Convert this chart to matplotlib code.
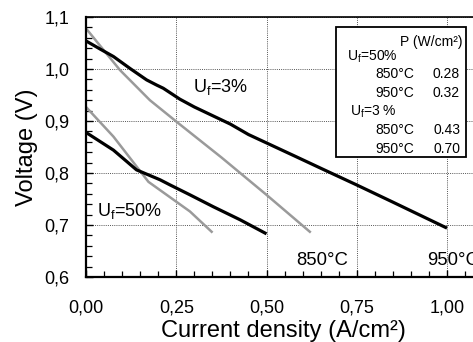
import matplotlib
matplotlib.use("Agg")
import matplotlib.pyplot as plt
from matplotlib.ticker import MultipleLocator, FuncFormatter
from matplotlib.patches import Rectangle

plt.rcParams['font.family'] = ['Liberation Sans', 'DejaVu Sans']
plt.rcParams['mathtext.default'] = 'regular'

# Data (current density A/cm2, voltage V)
x_950_3 = [0.0, 0.04, 0.076, 0.122, 0.168, 0.196, 0.214, 0.26, 0.30, 0.40, 0.45, 0.58, 0.66, 0.75, 0.85, 1.0]
v_950_3 = [1.054, 1.038, 1.024, 1.001, 0.979, 0.969, 0.963, 0.942, 0.927, 0.894, 0.874, 0.832, 0.806, 0.777, 0.744, 0.694]

x_850_3 = [0.0, 0.094, 0.177, 0.25, 0.375, 0.50, 0.62]
v_850_3 = [1.078, 0.998, 0.940, 0.899, 0.830, 0.758, 0.687]

x_950_50 = [0.0, 0.076, 0.14, 0.205, 0.233, 0.288, 0.353, 0.427, 0.50]
v_950_50 = [0.878, 0.844, 0.806, 0.787, 0.777, 0.758, 0.735, 0.710, 0.683]

x_850_50 = [0.0, 0.076, 0.173, 0.288, 0.348]
v_850_50 = [0.927, 0.870, 0.783, 0.726, 0.687]

x_ticks = [0.0, 0.25, 0.5, 0.75, 1.0]
y_ticks = [0.6, 0.7, 0.8, 0.9, 1.0, 1.1]

table_rows = [("U$_f$=50%", None), ("850°C", "0.28"), ("950°C", "0.32"),
              ("U$_f$=3 %", None), ("850°C", "0.43"), ("950°C", "0.70")]

W, H = 473, 342
fig = plt.figure(figsize=(W / 100, H / 100), dpi=100)
ax = fig.add_axes([86/W, 1-277/H, (W-86)/W, (277-17)/H])

black = '#000000'
gray = '#9a9a9a'
ax.plot(x_950_3, v_950_3, color=black, lw=2.3, solid_capstyle='butt', zorder=3)
ax.plot(x_950_50, v_950_50, color=black, lw=2.3, solid_capstyle='butt', zorder=3)
ax.plot(x_850_3, v_850_3, color=gray, lw=1.8, zorder=2)
ax.plot(x_850_50, v_850_50, color=gray, lw=1.8, zorder=2)

ax.set_xlim(0, 1.072)
ax.set_ylim(0.6, 1.1)
ax.set_xticks(x_ticks)
ax.set_yticks(y_ticks)
ax.xaxis.set_minor_locator(MultipleLocator(0.05))
ax.yaxis.set_minor_locator(MultipleLocator(0.02))
ax.xaxis.set_major_formatter(FuncFormatter(lambda v, p: f"{v:.2f}".replace('.', ',')))
ax.yaxis.set_major_formatter(FuncFormatter(lambda v, p: f"{v:.1f}".replace('.', ',')))
ax.tick_params(axis='both', which='both', direction='in', labelsize=13, colors='black')
ax.tick_params(axis='x', which='major', length=5, pad=16, width=1)
ax.tick_params(axis='y', which='major', length=5, pad=12, width=1)
ax.tick_params(which='minor', length=4, width=0.9)
ax.grid(True, which='major', linestyle=(0, (1, 1.2)), color='#555555', lw=0.7)

for s in ['left', 'bottom']:
    ax.spines[s].set_linewidth(1.6)
ax.spines['top'].set_linewidth(1.2)
ax.spines['right'].set_visible(False)

fig.text(283/W, 1-337/H, 'Current density (A/cm²)', fontsize=17, ha='center', va='baseline')
fig.text(27/W, 1-147.5/H, 'Voltage (V)', fontsize=17, ha='center', va='center', rotation=90)

ax.text(0.296, 0.965, 'U$_f$=3%', fontsize=13, va='center', ha='left')
ax.text(0.03, 0.726, 'U$_f$=50%', fontsize=13, va='center', ha='left')
ax.text(0.726, 0.632, '850°C', fontsize=13.3, va='center', ha='right')
ax.text(1.09, 0.632, '950°C', fontsize=13.3, va='center', ha='right', clip_on=False)

def fx(px):
    return px / W
def fy(py):
    return 1 - py / H

fig.patches.append(Rectangle((fx(336), fy(156.7)), fx(466) - fx(336), (156.7 - 27.3) / H,
                             transform=fig.transFigure, facecolor='white', edgecolor='black',
                             lw=1.3, zorder=5))
fs = 10
fig.text(fx(462), fy(42), 'P (W/cm²)', fontsize=fs, ha='right', va='center', zorder=6)
rows_y = [57, 74, 93, 112, 130, 149]
for (lab, val), yy in zip(table_rows, rows_y):
    if val is None:
        xl = 346.7 if '50' in lab else 350
        fig.text(fx(xl), fy(yy), lab, fontsize=fs, ha='left', va='center', zorder=6)
    else:
        fig.text(fx(414.3), fy(yy), lab, fontsize=fs, ha='right', va='center', zorder=6)
        fig.text(fx(460), fy(yy), val, fontsize=fs, ha='right', va='center', zorder=6)

fig.savefig('out.png', dpi=100)
